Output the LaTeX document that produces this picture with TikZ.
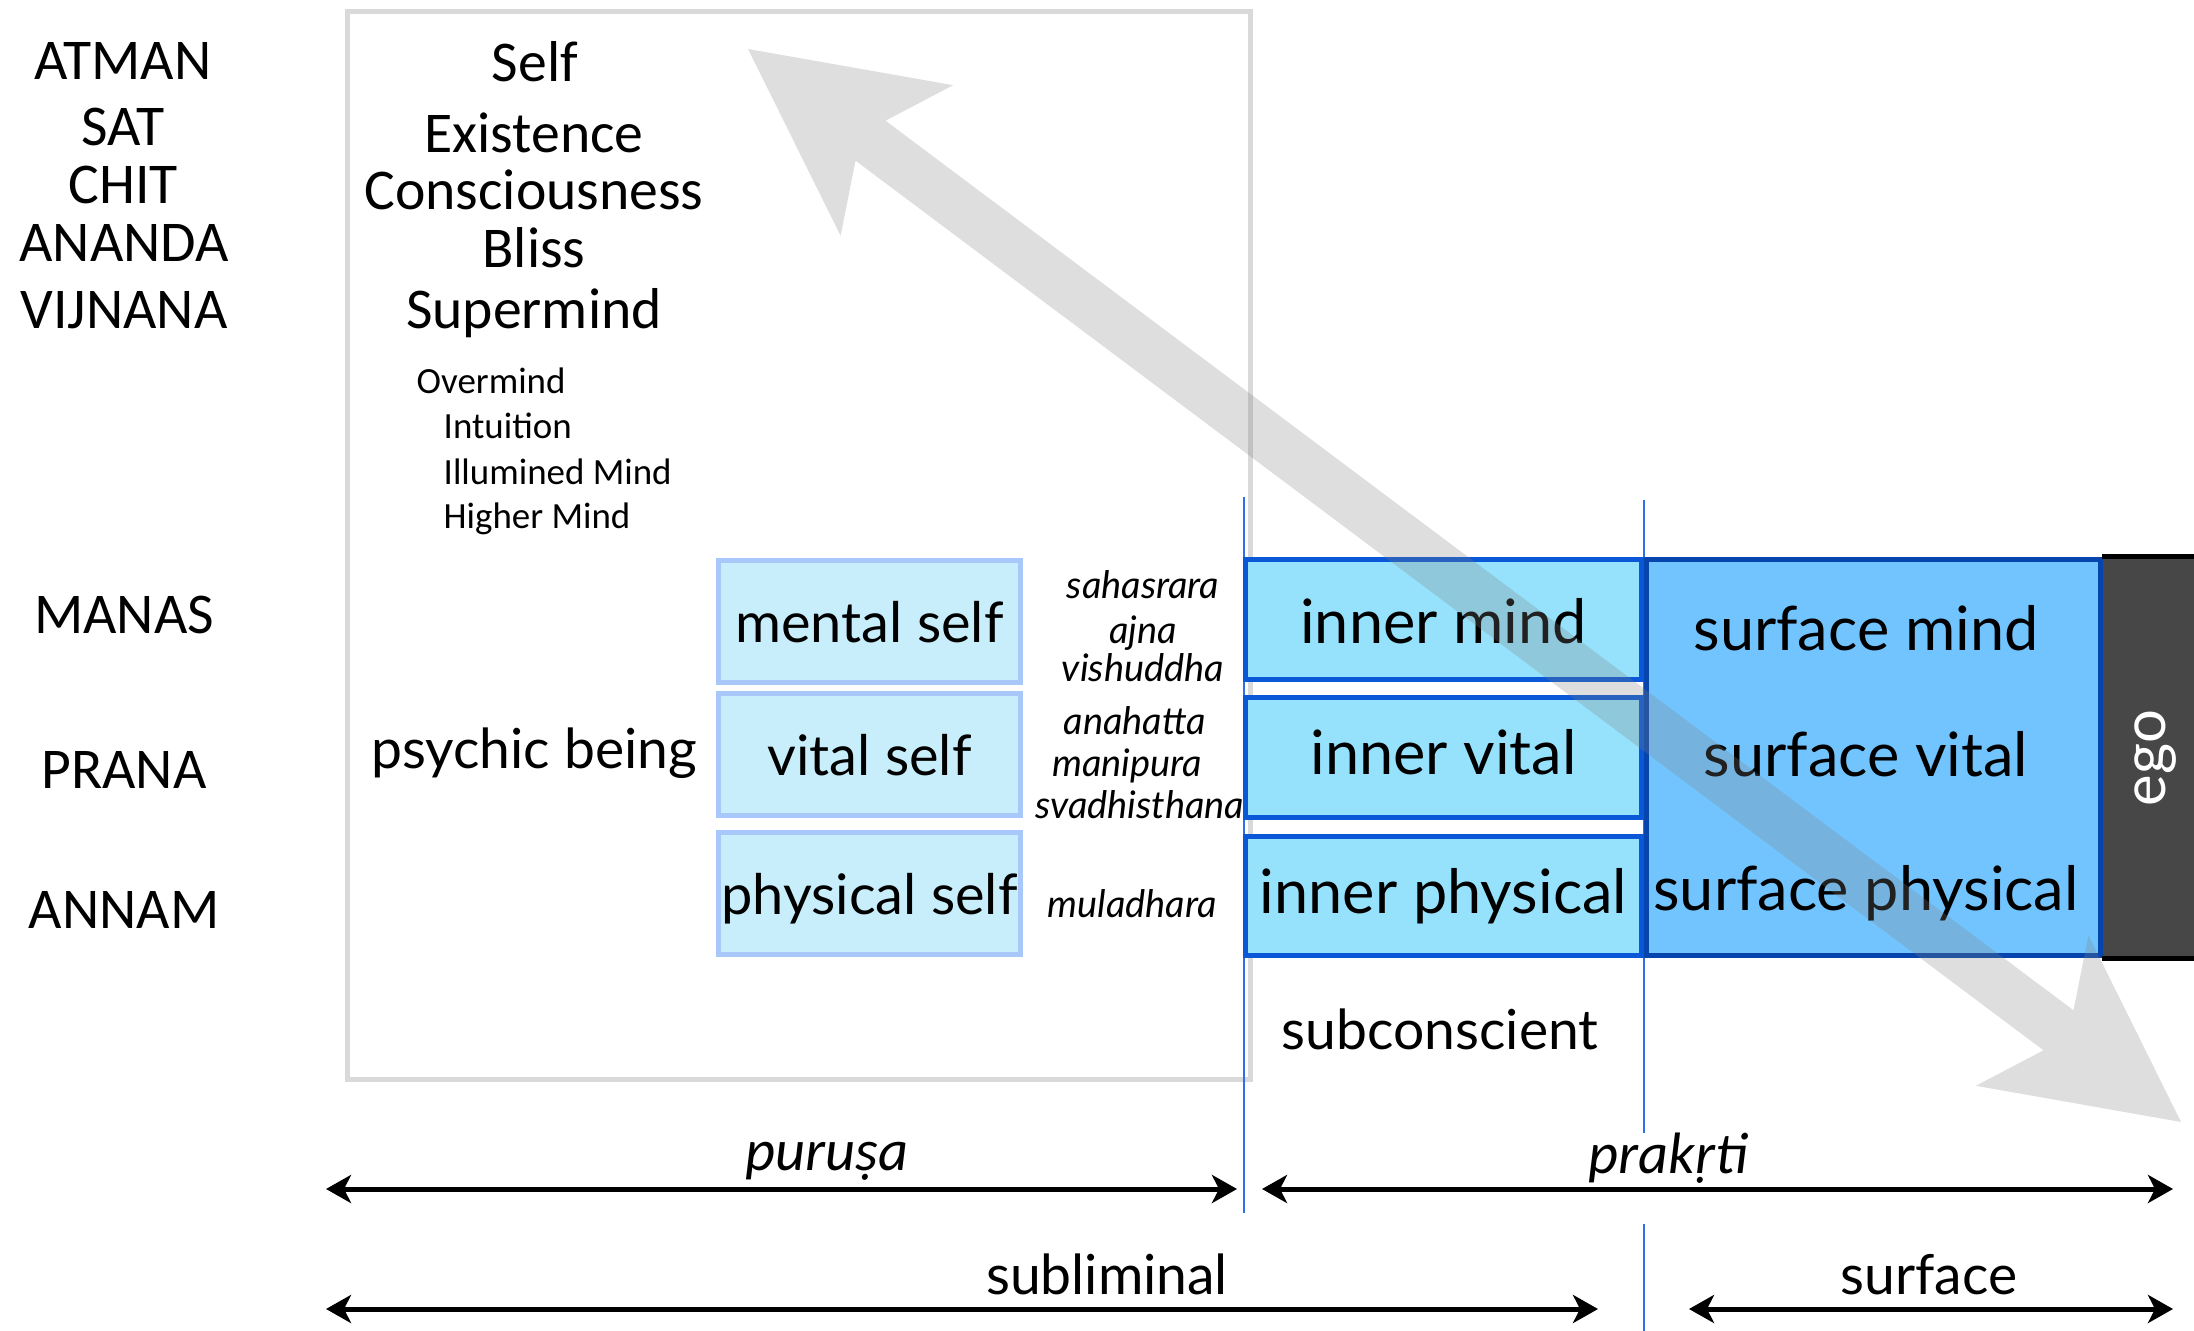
\documentclass[tikz,border=0pt]{standalone}
\usepackage{fontspec}
\setmainfont{Carlito}
\newfontfamily\lato{Lato}
\usetikzlibrary{arrows.meta}
\definecolor{selffill}{HTML}{C8EEFC}
\definecolor{selfdraw}{HTML}{A8C8FA}
\definecolor{innerfill}{HTML}{96E2FC}
\definecolor{innerdraw}{HTML}{0A58D8}
\definecolor{surffill}{HTML}{72C4FE}
\definecolor{surfdraw}{HTML}{0645AD}
\definecolor{egofill}{HTML}{474747}
\definecolor{framegray}{HTML}{D9D9D9}
\definecolor{sepblue}{HTML}{2F6FEF}
\tikzset{
  bigtxt/.style={font=\fontsize{16.4}{18}\selectfont, inner sep=0pt, anchor=base},
  smalltxt/.style={font=\fontsize{10.5}{12}\selectfont, inner sep=0pt, anchor=base west},
  chakra/.style={font=\lato\itshape\fontsize{10.8}{12}\selectfont, inner sep=0pt, anchor=base},
  midtxt/.style={font=\lato\fontsize{15.7}{18}\selectfont, inner sep=0pt, anchor=base},
  sanskrit/.style={font=\itshape\fontsize{16.6}{18}\selectfont, inner sep=0pt, anchor=base},
  surftxt/.style={font=\lato\fontsize{17.4}{20}\selectfont, inner sep=0pt, anchor=base},
  framebox/.style={draw=framegray, line width=0.05cm, minimum width=9.03cm, minimum height=10.68cm, inner sep=0pt},
  selfbox/.style={draw=selfdraw, fill=selffill, line width=0.05cm, minimum width=3.02cm, minimum height=1.22cm, inner sep=0pt, font=\lato\fontsize{15.9}{18}\selectfont, text height=12pt, text depth=0pt},
  innerbox/.style={draw=innerdraw, fill=innerfill, line width=0.05cm, minimum width=3.96cm, minimum height=1.20cm, inner sep=0pt, font=\lato\fontsize{17.4}{20}\selectfont},
  surfbox/.style={draw=surfdraw, fill=surffill, line width=0.05cm, minimum width=4.54cm, minimum height=3.96cm, inner sep=0pt},
  egobox/.style={fill=egofill, minimum width=0.91cm, minimum height=4.01cm, inner sep=0pt},
  sepline/.style={draw=sepblue, line width=0.02cm},
  spanarrow/.style={line width=0.05cm, {Stealth[length=0.25cm, width=0.28cm, inset=0.07cm]}-{Stealth[length=0.25cm, width=0.28cm, inset=0.07cm]}},
  bigarrow/.style={fill=black!50, opacity=0.26}
}
\begin{document}
\begin{tikzpicture}[x=0.01cm, y=-0.01cm]
\useasboundingbox (0,0) rectangle (2194,1331);

% frame
\node[framebox] (frame) at (799,545.5) {};

% separator lines
\coordinate (s1a) at (1243.5,497);
\coordinate (s1b) at (1243.5,1213);
\coordinate (s2a) at (1644,500);
\coordinate (s2b) at (1644,1133);
\coordinate (s3a) at (1644,1224);
\coordinate (s3b) at (1644,1331);
\draw[sepline] (s1a) -- (s1b);
\draw[sepline] (s2a) -- (s2b);
\draw[sepline] (s3a) -- (s3b);

% left column
\node[bigtxt] (atman) at (123,80) {ATMAN};
\node[bigtxt] (sat) at (123,146) {SAT};
\node[bigtxt] (chit) at (123,204) {CHIT};
\node[bigtxt] (ananda) at (124,262) {ANANDA};
\node[bigtxt] (vijnana) at (124,329) {VIJNANA};
\node[bigtxt] (manas) at (124,634) {MANAS};
\node[bigtxt] (prana) at (124,788) {PRANA};
\node[bigtxt] (annam) at (124,928) {ANNAM};

% self column
\node[bigtxt] (self) at (535,82) {Self};
\node[bigtxt] (existence) at (534,153) {Existence};
\node[bigtxt] (consc) at (534,210) {Consciousness};
\node[bigtxt] (bliss) at (534,268) {Bliss};
\node[bigtxt] (supermind) at (534,329) {Supermind};
\node[smalltxt] (overmind) at (416,394) {Overmind};
\node[smalltxt] (intuition) at (443,439) {Intuition};
\node[smalltxt] (illumined) at (443,485) {Illumined Mind};
\node[smalltxt] (higher) at (443,529) {Higher Mind};

\node[midtxt] (psychic) at (534,768) {psychic being};

% chakras
\node[chakra] (c7) at (1143,599) {sahasrara};
\node[chakra] (c6) at (1143,643) {ajna};
\node[chakra] (c5) at (1143,682) {vishuddha};
\node[chakra] (c4) at (1135,735) {anahatta};
\node[chakra] (c3) at (1127,777) {manipura};
\node[chakra] (c2) at (1140,818) {svadhisthana};
\node[chakra] (c1) at (1132,917) {muladhara};

% self boxes
\node[selfbox] (mental) at (869.5,621.5) {mental self};
\node[selfbox] (vital) at (869.5,754.5) {vital self};
\node[selfbox] (physical) at (869.5,893.5) {physical self};

% inner boxes
\node[innerbox, text height=13.4pt, text depth=0pt] (imind) at (1443.5,619.5) {inner mind};
\node[innerbox, text height=13pt, text depth=3.6pt] (ivital) at (1443.5,757.5) {inner vital};
\node[innerbox, minimum height=1.19cm, text height=13pt, text depth=3.3pt] (iphys) at (1443.5,896) {inner physical};

% surface box
\node[surfbox] (surf) at (1873.5,757.5) {};
\node[surftxt] (smind) at (1866,650) {surface mind};
\node[surftxt] (svital) at (1866,776) {surface vital};
\node[surftxt] (sphys) at (1866,910) {surface physical};

% ego
\node[egobox] (ego) at (2148.5,757.5) {};
\draw[line width=0.05cm] (ego.north west) -- (ego.north east);
\draw[line width=0.05cm] (ego.south west) -- (ego.south east);
\node[rotate=90, text=white, inner sep=0pt, font=\lato\fontsize{17}{20}\selectfont] (egotxt) at (2156,758) {ego};

\node[midtxt] (subc) at (1440,1049) {subconscient};

% big gray double arrow
\fill[bigarrow] (748,49) -- (953.2,85.2) -- (885.5,120.7) -- (2073.5,1010.3) -- (2088.4,935.2)
  -- (2181,1122) -- (1975.8,1085.8) -- (2043.5,1050.3) -- (855.5,160.7) -- (840.6,235.8) -- cycle;

% span arrows
\coordinate (pl) at (326,1189);
\coordinate (pr) at (1237,1189);
\coordinate (kl) at (1262,1189);
\coordinate (kr) at (2173,1189);
\coordinate (ll) at (326,1309);
\coordinate (lr) at (1598,1309);
\coordinate (fl) at (1689,1309);
\coordinate (fr) at (2173,1309);
\draw[spanarrow] (pl) -- (pr);
\draw[spanarrow] (kl) -- (kr);
\draw[spanarrow] (ll) -- (lr);
\draw[spanarrow] (fl) -- (fr);

\node[sanskrit] (purusa) at (827,1170) {puru\d{s}a};
\node[sanskrit] (prakrti) at (1668,1173) {prak\d{r}ti};
\node[midtxt] (sublim) at (1107,1294) {subliminal};
\node[midtxt] (surface) at (1929,1294) {surface};
\end{tikzpicture}
\end{document}
